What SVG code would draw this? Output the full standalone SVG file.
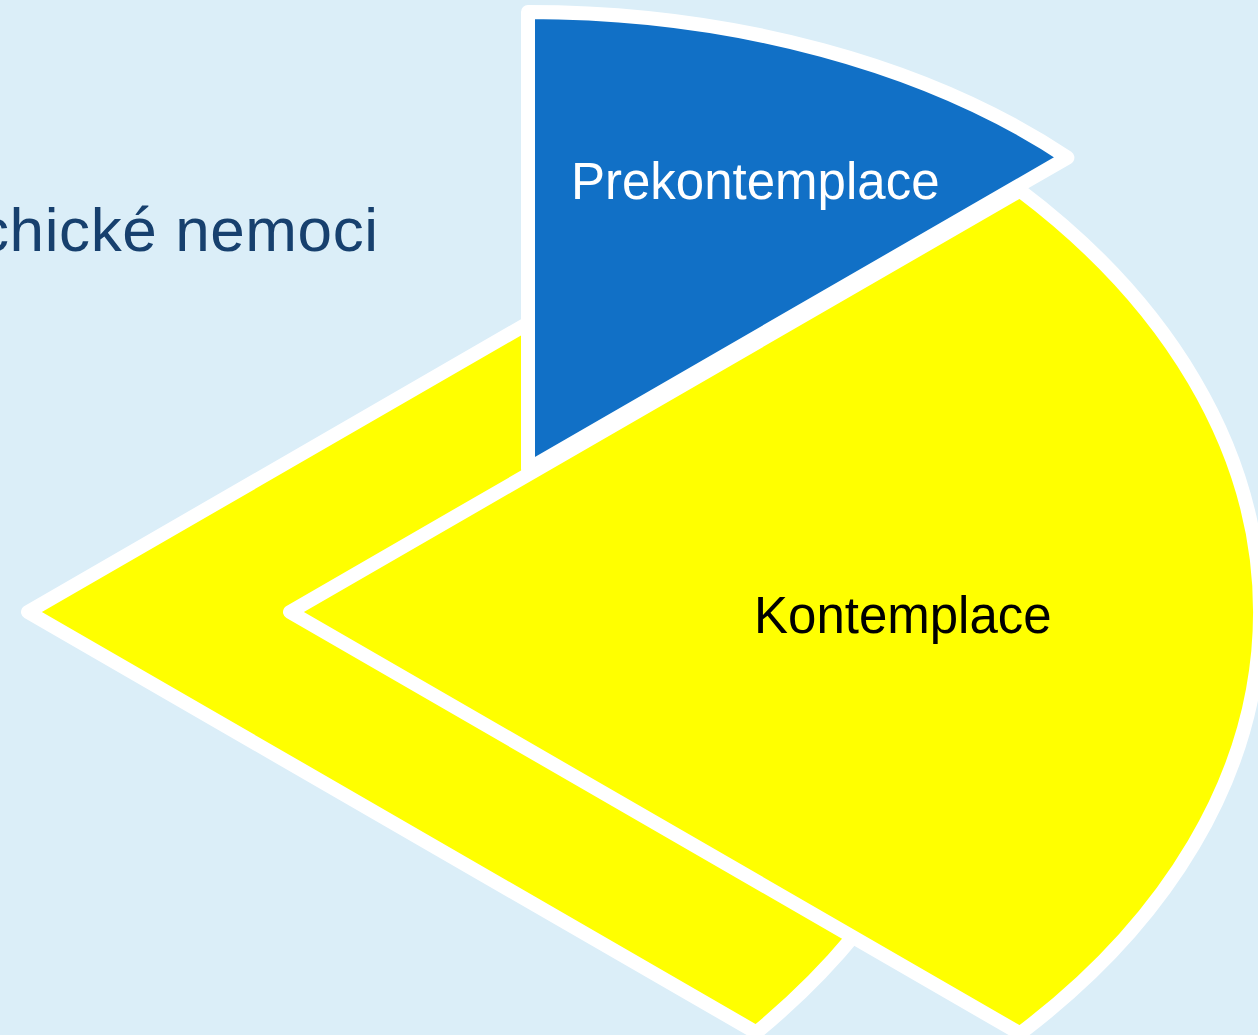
<svg xmlns="http://www.w3.org/2000/svg" width="1258" height="1035" viewBox="0 0 1258 1035">
  <style>
    .seg { stroke: #FFFFFF; stroke-width: 14; stroke-linejoin: round; }
    .yellow { fill: #FFFF00; }
    .blue { fill: #1170C6; }
    .lbl { font-family: "Liberation Sans", Arial, sans-serif; font-size: 51px; }
  </style>
  <rect x="0" y="0" width="1258" height="1035" fill="#DBEEF8"/>
  <text x="-22" y="251" font-family="Liberation Sans, Arial, sans-serif" font-size="62" letter-spacing="0.6" fill="#17406E">chické nemoci</text>
  <g id="connectors"/>
  <g id="node-back">
    <path class="seg yellow" d="M28,612 L756.3,191.5 A950,655 0 0,1 756.3,1032.5 Z"/>
  </g>
  <g id="node-prekontemplace">
    <path class="seg blue" d="M528,469 L528,12 A737,457 0 0,1 1067.4,157.6 Z"/>
    <text class="lbl" x="571" y="199" fill="#FFFFFF">Prekontemplace</text>
  </g>
  <g id="node-kontemplace">
    <path class="seg yellow" d="M290,612 L1020,190.5 A970,640 0 0,1 1020,1033.5 Z"/>
    <text class="lbl" x="754" y="633" fill="#000000">Kontemplace</text>
  </g>
</svg>
